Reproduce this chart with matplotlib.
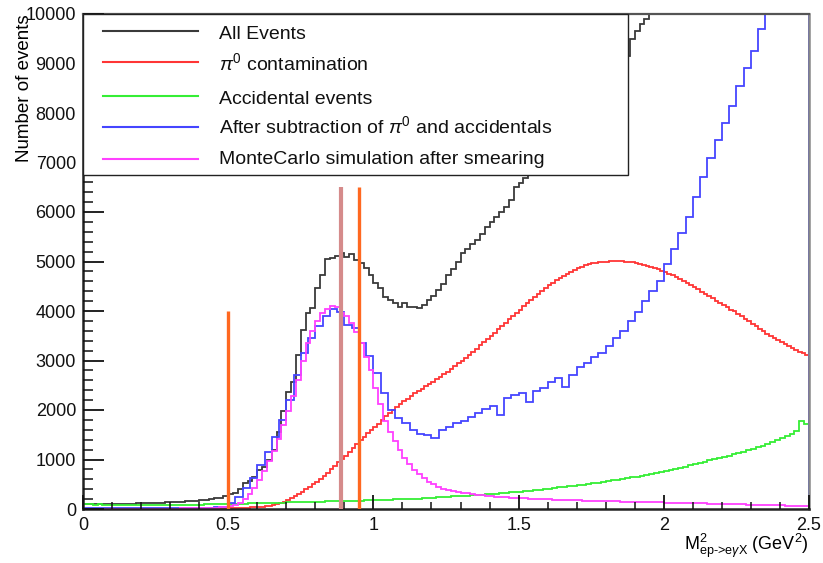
import matplotlib
matplotlib.use("Agg")
import matplotlib.pyplot as plt
import numpy as np
from matplotlib.ticker import MultipleLocator, FormatStrFormatter
from matplotlib.patches import Rectangle

plt.rcParams['font.family'] = ['Liberation Sans', 'DejaVu Sans']
plt.rcParams['mathtext.fontset'] = 'custom'
plt.rcParams['mathtext.rm'] = 'Liberation Sans'
plt.rcParams['mathtext.it'] = 'Liberation Sans:italic'
plt.rcParams['mathtext.bf'] = 'Liberation Sans:bold'

# histogram contents (bins span 0 - 2.5 GeV^2)
all_events = [100, 95, 105, 98, 102, 96, 104, 100, 108, 110, 106, 115, 120, 115, 125,
              130, 124, 135, 140, 150, 145, 160, 155, 170, 180, 190, 200, 215, 230, 260,
              300, 330, 400, 520, 560, 650, 790, 850, 990, 1190, 1560, 1970, 2370, 2570, 3110,
              3620, 3950, 4060, 4460, 4730, 5050, 5080, 5120, 5180, 5100, 5160, 5030, 4970, 4870, 4730,
              4560, 4460, 4290, 4220, 4160, 4090, 4160, 4090, 4090, 4060, 4120, 4220, 4300, 4420, 4550,
              4730, 4850, 5000, 5170, 5250, 5350, 5430, 5560, 5700, 5800, 5900, 6000, 6100, 6240, 6510,
              6580, 6680, 6800, 6900, 7000, 7100, 7200, 7300, 7400, 7500, 7600, 7700, 7800, 7900, 8000,
              8100, 8250, 8400, 8550, 8700, 8850, 9000, 9150, 9500, 9650, 9800, 9900, 10050, 10200, 10400,
              10600, 10800, 11000, 11300, 11600, 11900, 12200, 12500, 12800, 13100, 13400, 13700, 14000, 14300, 14600,
              14900, 15200, 15500, 15800, 16100, 16400, 16700, 17000, 17300, 17600, 17900, 18200, 18500, 18800, 19100]

pi0 = [0, 0, 0, 0, 0, 0, 0, 0, 0, 0, 0, 1, 1, 1, 1, 1, 1, 2, 2, 2,
       2, 3, 3, 3, 4, 4, 5, 5, 6, 6, 7, 8, 8, 9, 10, 11, 12, 13, 14, 15,
       16, 18, 20, 22, 25, 28, 32, 37, 43, 50, 58, 67, 80, 100, 125, 150, 185, 220, 260, 300,
       345, 395, 445, 495, 550, 610, 670, 735, 800, 870, 940, 1010, 1080, 1160, 1240, 1320, 1400, 1460, 1530, 1590,
       1650, 1720, 1800, 1870, 1940, 2000, 2060, 2120, 2180, 2230, 2290, 2340, 2390, 2430, 2480, 2520, 2570, 2620, 2670, 2720,
       2770, 2830, 2880, 2940, 3000, 3060, 3120, 3180, 3240, 3310, 3370, 3430, 3500, 3560, 3630, 3690, 3760, 3830, 3890, 3960,
       4030, 4100, 4160, 4230, 4290, 4350, 4410, 4460, 4520, 4570, 4620, 4670, 4710, 4750, 4790, 4830, 4860, 4890, 4920, 4940,
       4960, 4975, 4985, 4995, 5000, 5005, 5010, 5010, 5005, 5000, 4990, 4980, 4965, 4950, 4930, 4910, 4890, 4860, 4840, 4810,
       4780, 4750, 4720, 4680, 4640, 4600, 4560, 4520, 4480, 4440, 4390, 4350, 4300, 4260, 4210, 4170, 4120, 4080, 4030, 3990,
       3940, 3890, 3840, 3790, 3740, 3690, 3640, 3590, 3540, 3500, 3450, 3410, 3370, 3330, 3290, 3250, 3220, 3180, 3150, 3110]

accidentals = [95, 100, 90, 92, 88, 90, 85, 90, 88, 86, 84, 88, 85, 83, 86,
               84, 87, 85, 86, 84, 88, 87, 90, 88, 90, 92, 95, 96, 98, 100,
               102, 105, 108, 110, 112, 115, 118, 120, 122, 125, 128, 130, 132, 135, 138,
               140, 142, 145, 148, 150, 152, 155, 158, 160, 162, 165, 168, 170, 172, 176,
               178, 182, 185, 188, 192, 196, 200, 204, 208, 212, 218, 224, 230, 236, 242,
               248, 254, 260, 266, 272, 278, 284, 290, 296, 302, 310, 318, 326, 334, 342,
               350, 360, 370, 380, 390, 400, 412, 424, 436, 448, 460, 472, 480, 492, 505,
               518, 532, 546, 560, 576, 592, 608, 624, 640, 656, 672, 688, 705, 725, 745,
               765, 785, 805, 830, 855, 880, 905, 930, 955, 980, 1005, 1030, 1055, 1080, 1105,
               1130, 1160, 1190, 1220, 1250, 1280, 1320, 1360, 1400, 1440, 1480, 1520, 1580, 1770, 1710]

subtracted = [20, 18, 22, 15, 18, 20, 16, 19, 14, 17, 15, 18, 20, 16, 22, 20, 25, 28, 35, 50,
              120, 240, 420, 620, 880, 1150, 1450, 1800, 2200, 2700, 3150, 3450, 3700, 3900, 4050, 3980, 3720, 3650, 3350, 3100,
              2750, 2350, 2000, 1840, 1730, 1600, 1520, 1500, 1430, 1600, 1650, 1730, 1780, 1860, 1930, 2030, 2080, 1900, 2250, 2300,
              2350, 2170, 2380, 2450, 2560, 2640, 2470, 2700, 2870, 2950, 3080, 3150, 3300, 3450, 3600, 3800, 3980, 4200, 4400, 4600,
              4950, 5250, 5570, 5900, 6300, 6700, 7100, 7450, 7800, 8150, 8550, 8900, 9250, 9700, 10100, 10600, 11100, 11700, 12300, 13000]

montecarlo = [2, 3, 2, 3, 2, 3, 3, 3, 4, 4, 4, 5, 5, 6, 6, 7, 7, 8, 9, 10, 11, 12, 14, 16, 18, 21, 25, 30, 38, 48,
              65, 90, 125, 200, 300, 430, 580, 760, 960, 1180, 1420, 1700, 1980, 2280, 2600,
              3000, 3350, 3600, 3800, 3950, 4050, 4100, 4080, 3960, 3900, 3750, 3580, 3350, 3080, 2800,
              2450, 2120, 1780, 1550, 1380, 1200, 1040, 900, 790, 700, 620, 550, 500, 450, 410,
              385, 365, 345, 330, 315, 300, 290, 280, 270, 260, 252, 245, 238, 232, 226,
              220, 215, 210, 205, 200, 196, 192, 188, 185, 182, 178, 175, 172, 170, 167,
              165, 162, 160, 157, 155, 152, 150, 148, 146, 144, 141, 139, 137, 135, 133,
              131, 128, 126, 124, 122, 119, 117, 115, 112, 110, 107, 105, 102, 100, 97,
              95, 92, 90, 87, 85, 82, 80, 77, 75, 72, 70, 68, 66, 63, 60]

# cut lines
cut_x = [0.5, 0.888, 0.949]
cut_top = [4000, 6500, 6500]

labels = ['All Events', r'$\pi^{0}$ contamination', 'Accidental events',
          r'After subtraction of $\pi^{0}$ and accidentals',
          'MonteCarlo simulation after smearing']
colors = ['#3a3a3a', '#ff3535', '#35ee35', '#4545ff', '#ff40ff']

fig = plt.figure(figsize=(8.23, 5.63), dpi=100)
ax = fig.add_axes([83/823, 54/563, 726/823, 495/563])
ax.set_axisbelow(False)

for vals, col in zip([all_events, pi0, accidentals, subtracted, montecarlo], colors):
    edges = np.linspace(0, 2.5, len(vals) + 1)
    ax.stairs(vals, edges, color=col, lw=1.3, zorder=2)

ax.vlines(cut_x, 0, cut_top, colors=['#ff6820', '#d58b8b', '#ff6820'],
          linewidths=[2.4, 3.0, 2.4], zorder=3)

ax.set_xlim(0, 2.5)
ax.set_ylim(0, 10000)
ax.xaxis.set_major_locator(MultipleLocator(0.5))
ax.xaxis.set_minor_locator(MultipleLocator(0.1))
ax.yaxis.set_major_locator(MultipleLocator(1000))
ax.yaxis.set_minor_locator(MultipleLocator(200))
ax.xaxis.set_major_formatter(FormatStrFormatter('%g'))
ax.yaxis.set_major_formatter(FormatStrFormatter('%g'))
ax.tick_params(which='both', direction='in', left=True, bottom=True, top=False, right=False,
               labelsize=13, colors='#111111')
ax.tick_params(axis='x', which='major', length=10, width=1.3, pad=6)
ax.tick_params(axis='x', which='minor', length=5, width=1.1)
ax.tick_params(axis='y', which='major', length=15, width=1.3, pad=5)
ax.tick_params(axis='y', which='minor', length=7.5, width=1.1)

for side in ['left', 'bottom']:
    ax.spines[side].set_linewidth(1.8)
    ax.spines[side].set_color('#222222')
ax.spines['top'].set_linewidth(1.6)
ax.spines['top'].set_color('#555555')
ax.spines['right'].set_linewidth(1.8)
ax.spines['right'].set_color('#888888')

ax.set_ylabel('Number of events', fontsize=13.5, loc='top')
ax.yaxis.set_label_coords(-0.069, 1.0)
ax.set_xlabel(r'M$^{2}_{\mathrm{ep}\text{->}\mathrm{e}\gamma\mathrm{X}}$ (GeV$^{2}$)', fontsize=13, loc='right')
ax.xaxis.set_label_coords(1.0, -0.045)

# legend box drawn like the ROOT TLegend
def to_ax(px, py):
    return (px - 83) / 726, (509 - py) / 495

x0, y0 = to_ax(83, 175)
x1, y1 = to_ax(628, 14)
ax.add_patch(Rectangle((x0, y0), x1 - x0, y1 - y0, transform=ax.transAxes,
                       facecolor='white', edgecolor='#222222', lw=1.0, zorder=5, clip_on=False))
handle_y = [30.7, 62.3, 95.7, 127.3, 159]
text_base = [39, 70, 104, 133.3, 164]
for lab, col, hy, ty in zip(labels, colors, handle_y, text_base):
    hx0, hyy = to_ax(103, hy)
    hx1, _ = to_ax(198, hy)
    ax.plot([hx0, hx1], [hyy, hyy], color=col, lw=1.5, transform=ax.transAxes, zorder=6)
    tx, tyy = to_ax(219, ty)
    ax.text(tx, tyy, lab, fontsize=14, va='baseline', ha='left', transform=ax.transAxes,
            zorder=6, color='#111111')

fig.savefig('out.png', dpi=100)
